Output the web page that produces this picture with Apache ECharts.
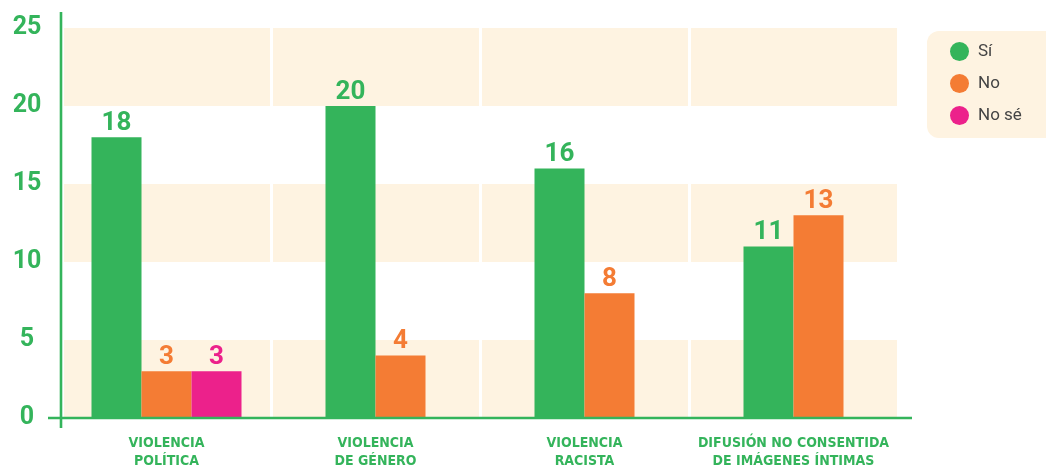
<!DOCTYPE html>
<html>
<head>
<meta charset="utf-8">
<script src="https://cdn.jsdelivr.net/npm/echarts@6/dist/echarts.min.js"></script>
<style>
  html, body { margin: 0; padding: 0; background: #fff; }
  #chart { width: 1046px; height: 470px; }
</style>
</head>
<body>
<div id="chart"></div>
<script>
// datos
const categories = ['VIOLENCIA\nPOLÍTICA', 'VIOLENCIA\nDE GÉNERO', 'VIOLENCIA\nRACISTA', 'DIFUSIÓN NO CONSENTIDA\nDE IMÁGENES ÍNTIMAS']
const seriesNames = ['Sí', 'No', 'No sé']
const si = [18, 20, 16, 11]
const no = [3, 4, 8, 13]
const noSe = [3, null, null, null]

const GREEN = '#34B45B'
const ORANGE = '#F47C34'
const PINK = '#EC218B'
const CREAM = '#FEF3E1'
const colors = [GREEN, ORANGE, PINK]
const allSeries = [si, no, noSe]
const BAR_W = 50

// las barras de cada categoría se centran según cuántas tienen valor
function renderBar(params, api) {
  const i = api.value(0)
  const v = api.value(1)
  const present = allSeries.map((s, k) => (s[i] != null ? k : -1)).filter(k => k >= 0)
  const k = present.indexOf(params.seriesIndex)
  const n = present.length
  const base = api.coord([i, 0])
  const top = api.coord([i, v])
  const x0 = base[0] - (n * BAR_W) / 2 + k * BAR_W
  const color = colors[params.seriesIndex]
  return {
    type: 'group',
    children: [
      {
        type: 'rect',
        shape: { x: x0, y: top[1], width: BAR_W, height: base[1] - top[1] },
        style: { fill: color }
      },
      {
        type: 'text',
        style: {
          text: String(v),
          x: x0 + BAR_W / 2,
          y: top[1] - 1,
          align: 'center',
          verticalAlign: 'bottom',
          fill: color,
          font: 'bold 26px Roboto'
        }
      }
    ]
  }
}

const chart = echarts.init(document.getElementById('chart'))
chart.setOption({
  animation: false,
  grid: { left: 62, right: 148, top: 28, bottom: 52 },
  legend: {
    orient: 'vertical',
    left: 927,
    top: 31,
    padding: [11, 60, 13, 23],
    backgroundColor: CREAM,
    borderRadius: 12,
    icon: 'circle',
    itemWidth: 19,
    itemHeight: 19,
    itemGap: 13,
    data: seriesNames,
    textStyle: { color: '#444', fontSize: 17, fontFamily: 'Roboto', padding: [0, 0, 0, 4] }
  },
  xAxis: {
    type: 'category',
    data: categories,
    axisLine: { show: false },
    axisTick: { show: false },
    splitLine: { show: true, interval: 0, lineStyle: { color: '#fff', width: 3 } },
    axisLabel: {
      interval: 0,
      color: GREEN,
      fontWeight: 'bold',
      fontSize: 14,
      lineHeight: 18,
      fontFamily: "'DejaVu Sans Condensed', sans-serif",
      margin: 16
    }
  },
  yAxis: {
    type: 'value',
    min: 0,
    max: 25,
    interval: 5,
    axisLine: { show: false },
    axisTick: { show: false },
    splitLine: { show: false },
    splitArea: { show: true, areaStyle: { color: [CREAM, '#FFFFFF'] } },
    axisLabel: {
      color: GREEN,
      fontWeight: 'bold',
      fontSize: 25,
      fontFamily: 'Roboto',
      align: 'center',
      margin: 35
    }
  },
  graphic: [
    { type: 'line', z: 100, shape: { x1: 61, y1: 12, x2: 61, y2: 428 }, style: { stroke: GREEN, lineWidth: 2.6 } },
    { type: 'line', z: 100, shape: { x1: 48, y1: 418, x2: 912, y2: 418 }, style: { stroke: GREEN, lineWidth: 2.6 } }
  ],
  series: allSeries.map((s, k) => ({
    name: seriesNames[k],
    type: 'custom',
    itemStyle: { color: colors[k] },
    encode: { x: 0, y: 1 },
    renderItem: renderBar,
    data: s.map((v, i) => [i, v]).filter(d => d[1] != null)
  }))
})
</script>
</body>
</html>
